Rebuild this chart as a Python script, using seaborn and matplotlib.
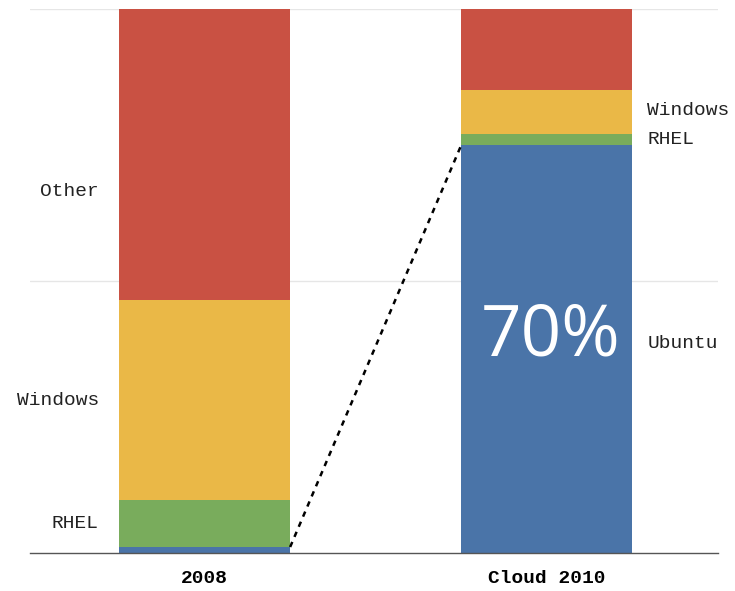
import matplotlib
matplotlib.use("Agg")
import matplotlib.pyplot as plt
import matplotlib.transforms as mtransforms
import seaborn as sns
import numpy as np
import pandas as pd

# ---- data ----
years = ["2008", "Cloud 2010"]
segments = ["Ubuntu", "RHEL", "Windows", "Other"]
ubuntu = [1.1, 75.0]
rhel = [8.6, 2.0]
windows = [36.8, 8.1]
other = [53.5, 14.9]
colors = ["#4A74A8", "#79AC5C", "#EAB847", "#C95143"]
highlight_label = "70%"

sns.set_theme(style="white")
plt.rcParams["font.family"] = ["Liberation Mono", "DejaVu Sans"]

fig = plt.figure(figsize=(7.35, 5.91), dpi=100)
ax = fig.add_axes([30 / 735, 38 / 591, 688 / 735, 544 / 591])

vals = np.array([ubuntu, rhel, windows, other])
cum = np.cumsum(vals, axis=0)

# draw stacked bars: tallest cumulative first, then overdraw
for i in range(len(segments) - 1, -1, -1):
    df = pd.DataFrame({"year": years, "value": cum[i]})
    sns.barplot(data=df, x="year", y="value", color=colors[i], width=0.5,
                saturation=1, ax=ax, edgecolor="none", linewidth=0)

ax.set_xlim(-0.51, 1.5)
ax.set_ylim(0, 100)
ax.set_yticks([])
ax.set_ylabel("")
ax.set_xlabel("")
for y in [50, 100]:
    ax.axhline(y, color="#e6e6e6", lw=1, zorder=0)
for s in ["left", "right", "top"]:
    ax.spines[s].set_visible(False)
ax.spines["bottom"].set_color("#555555")
ax.spines["bottom"].set_linewidth(1)
ax.tick_params(axis="x", length=0, pad=12)
for lab in ax.get_xticklabels():
    lab.set_fontweight("bold")
    lab.set_fontsize(14)
    lab.set_color("black")
    lab.set_family(["Liberation Mono", "DejaVu Sans"])

# dotted connector between Ubuntu tops
ax.plot([0.25, 0.75], [cum[0][0], cum[0][1]], color="black", lw=1.8,
        linestyle=(0, (2.2, 2.2)), zorder=5)

# segment labels
left_off = mtransforms.offset_copy(ax.transData, fig=fig, x=-20, y=0, units="dots")
right_off = mtransforms.offset_copy(ax.transData, fig=fig, x=15, y=0, units="dots")
left_y = {"Other": 66.5, "Windows": cum[1][0] + windows[0] / 2, "RHEL": cum[0][0] + rhel[0] / 2}
for name, yv in left_y.items():
    ax.text(-0.25, yv, name, transform=left_off, ha="right", va="center",
            fontsize=14, color="#222222")
right_y = {"Windows": cum[1][1] + windows[1] / 2 + 0.2,
           "RHEL": cum[0][1] + rhel[1] / 2,
           "Ubuntu": 38.6}
for name, yv in right_y.items():
    ax.text(1.25, yv, name, transform=right_off, ha="left", va="center",
            fontsize=14, color="#222222")

ax.text(1.01, 39.7, highlight_label, ha="center", va="center", color="white",
        fontsize=51, family=["Open Sans", "DejaVu Sans"], fontweight="normal")

fig.savefig("out.png", dpi=100)
